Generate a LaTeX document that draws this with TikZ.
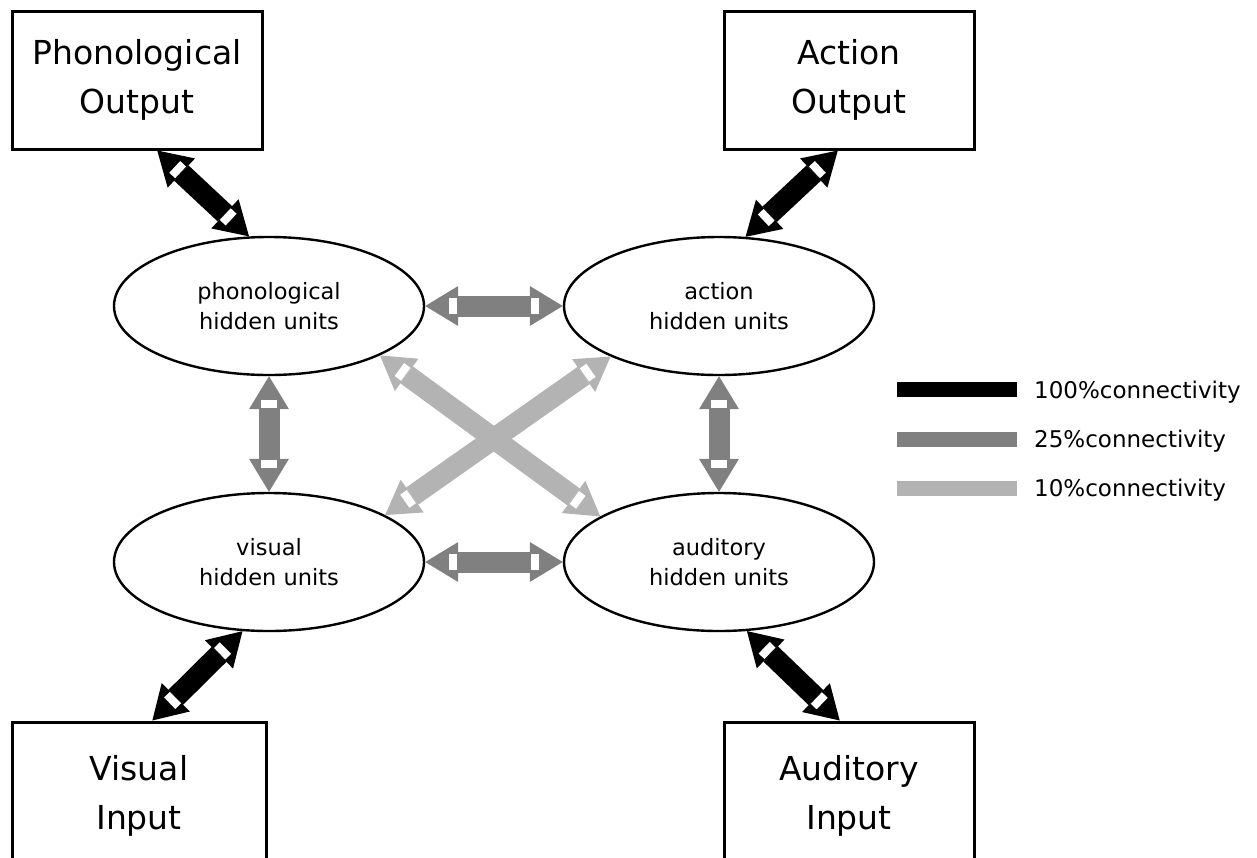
\documentclass[tikz,border=0pt]{standalone}
\usepackage{fontspec}
\setmainfont{DejaVu Sans}
\usetikzlibrary{shapes.geometric,arrows.meta,decorations.markings}
\definecolor{midgray}{HTML}{808080}
\definecolor{litegray}{HTML}{B3B3B3}
\tikzset{
  outbox/.style={draw, line width=3pt, rectangle, minimum width=250pt, minimum height=138pt, inner sep=0pt, align=center, font=\fontsize{33}{49}\selectfont},
  hid/.style={ellipse, draw, line width=2.4pt, minimum width=310pt, minimum height=138pt, inner sep=0pt, align=center, font=\fontsize{22.5}{30}\selectfont},
  legbar/.style={rectangle, minimum width=120pt, minimum height=15pt, inner sep=0pt},
  legtext/.style={anchor=base west, inner sep=0pt, font=\fontsize{23}{28}\selectfont},
  whitebar/.style={decoration={markings,
      mark=at position 28pt with {\fill[white] (-4pt,-8pt) rectangle (4pt,8pt);},
      mark=at position -28pt with {\fill[white] (-4pt,-8pt) rectangle (4pt,8pt);}}},
  conn/.style={draw=#1, line width=21pt,
      {Triangle[length=33pt,width=40pt,line width=0pt]}-{Triangle[length=33pt,width=40pt,line width=0pt]},
      whitebar, postaction={decorate}}
}
\begin{document}
\begin{tikzpicture}[x=1pt,y=-1pt]
\useasboundingbox (0,0) rectangle (1257,857);
\clip (0,0) rectangle (1257,857);

% boxes
\node[outbox] (po) at (137,80) {Phonological\\Output};
\node[outbox] (ao) at (849,80) {Action\\Output};
\node[outbox, minimum width=254pt, minimum height=148pt] (vi) at (139,796) {Visual\\Input};
\node[outbox, minimum height=148pt] (ai) at (849,796) {Auditory\\Input};

% hidden layers
\node[hid] (ph) at (269,306) {phonological\\hidden units};
\node[hid] (ac) at (719,306) {action\\hidden units};
\node[hid] (vh) at (269,562) {visual\\hidden units};
\node[hid] (au) at (719,562) {auditory\\hidden units};

% 100% connections
\draw[conn=black] (po.-74) -- (ph.106);
\draw[conn=black] (ao.-99) -- (ac.69);
\draw[conn=black] (vh.-111) -- (vi.80);
\draw[conn=black] (au.-68) -- (ai.97);

% 25% connections
\draw[conn=midgray] (ph.east) -- (ac.west);
\draw[conn=midgray] (vh.east) -- (au.west);
\draw[conn=midgray] (ph.south) -- (vh.north);
\draw[conn=midgray] (ac.south) -- (au.north);

% 10% connections
\draw[conn=litegray] (ph.-24) -- (au.159);
\draw[conn=litegray] (ac.-155) -- (vh.22);

% legend
\node[legbar, fill=black] (l1) at (957,389.5) {};
\node[legbar, fill=midgray] (l2) at (957,439.5) {};
\node[legbar, fill=litegray] (l3) at (957,488.5) {};
\node[legtext] (t1) at (1034,398) {100\%connectivity};
\node[legtext] (t2) at (1034,447) {25\%connectivity};
\node[legtext] (t3) at (1034,496) {10\%connectivity};
\end{tikzpicture}
\end{document}
